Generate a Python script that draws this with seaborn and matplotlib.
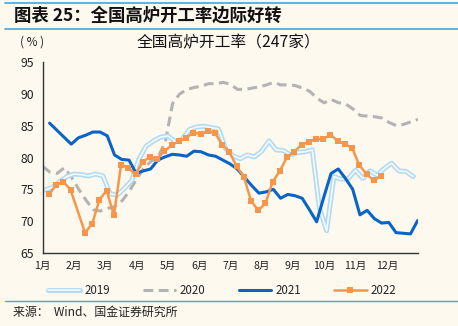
import numpy as np
import pandas as pd
import matplotlib
matplotlib.use("Agg")
import matplotlib.pyplot as plt
import matplotlib.patheffects as pe
from matplotlib.lines import Line2D
import seaborn as sns

# ---------------- data ----------------
month_labels = ["1月", "2月", "3月", "4月", "5月", "6月", "7月", "8月", "9月", "10月", "11月", "12月"]
years = ["2019", "2020", "2021", "2022"]

v2019 = [74.9, 75.3, 76.2, 77.0, 77.4, 77.3, 77.1, 77.4, 77.1, 74.3, 74.1, 75.2, 76.4,
         79.8, 81.8, 82.6, 83.2, 83.4, 82.5, 82.9, 84.4, 84.8, 84.9, 84.7, 84.5, 81.4,
         80.3, 79.8, 80.4, 80.1, 81.0, 82.6, 81.2, 81.1, 80.4, 80.8, 80.9, 81.2, 72.0,
         68.5, 77.0, 76.6, 76.7, 78.0, 76.7, 77.9, 77.2, 78.3, 79.1, 77.9, 77.8, 77.0]
v2020 = [78.6, 77.7, 77.5, 78.4, 76.9, 75.0, 73.3, 71.8, 71.6, 72.0, 72.3, 73.2, 74.7,
         76.6, 78.3, 79.4, 80.1, 82.5, 88.5, 90.0, 90.7, 91.0, 91.2, 91.6, 91.6, 91.8,
         91.5, 90.7, 90.7, 90.9, 91.1, 91.4, 91.8, 91.4, 91.4, 91.3, 90.9, 90.4, 89.3,
         88.6, 89.1, 88.6, 88.4, 87.6, 86.6, 86.5, 86.4, 86.2, 85.5, 85.0, 85.2, 85.6, 86.0]
v2021 = [85.4, 84.3, 83.2, 82.1, 83.1, 83.5, 84.0, 84.0, 83.4, 80.4, 79.7, 79.6, 77.5,
         77.9, 78.2, 79.6, 80.1, 80.5, 80.4, 80.2, 81.0, 80.9, 80.4, 80.2, 79.6, 79.0,
         78.2, 76.9, 75.6, 74.4, 74.6, 75.0, 73.6, 74.2, 74.0, 73.6, 71.8, 69.9, 73.8,
         77.5, 78.2, 76.7, 75.0, 71.0, 71.7, 70.4, 69.7, 69.8, 68.2, 68.1, 68.0, 70.1]
weeks2022 = [0, 1, 2, 3] + list(range(5, 47))
v2022 = [74.2, 75.7, 76.2, 74.9, 68.2, 69.6, 73.4, 74.8, 70.9, 78.9, 78.3, 77.4, 79.3,
         80.1, 79.8, 81.0, 81.9, 82.6, 83.1, 83.9, 83.7, 84.1, 83.9, 82.0, 80.9, 78.6,
         77.0, 73.2, 71.7, 72.8, 76.2, 77.9, 80.1, 80.9, 82.0, 82.5, 82.9, 82.9, 83.6,
         82.6, 82.1, 81.5, 78.8, 77.4, 76.4, 77.1]

# first observation of each year, in months from 1 Jan, and weekly step
start = {"2019": 0.08, "2020": 0.0, "2021": 0.22, "2022": 0.20}
wk = 12 / 52

def frame(year, weeks, vals):
    return pd.DataFrame({"month": [start[year] + w * wk for w in weeks],
                         "rate": vals, "year": year})

df = pd.concat([
    frame("2019", range(len(v2019)), v2019),
    frame("2020", range(len(v2020)), v2020),
    frame("2021", range(len(v2021)), v2021),
    frame("2022", weeks2022, v2022),
], ignore_index=True)

# ---------------- style ----------------
BG = "#fdf9ef"
C19 = "#b3daf3"
C20 = "#b3b3b3"
C21 = "#0a64c8"
C22 = "#f7964a"
LINEBLUE = "#3fa9de"

sns.set_theme(style="white")
plt.rcParams["font.family"] = ["Noto Sans CJK SC", "DejaVu Sans"]
plt.rcParams["axes.unicode_minus"] = False

fig = plt.figure(figsize=(4.58, 3.26), dpi=100, facecolor=BG)
ax = fig.add_axes([0.0932, 0.2239, 0.8195, 0.5859])
ax.set_facecolor(BG)

pe19 = [pe.Stroke(linewidth=3.6, foreground=C19), pe.Normal()]

sns.lineplot(data=df[df.year == "2020"], x="month", y="rate", ax=ax, color=C20,
             lw=2.2, dashes=False, linestyle=(0, (3.2, 1.8)), legend=False)
sns.lineplot(data=df[df.year == "2019"], x="month", y="rate", ax=ax, color="#f6fbff",
             lw=1.2, legend=False, path_effects=pe19)
sns.lineplot(data=df[df.year == "2021"], x="month", y="rate", ax=ax, color=C21,
             lw=2.2, legend=False)
sns.lineplot(data=df[df.year == "2022"], x="month", y="rate", ax=ax, color=C22,
             lw=1.8, marker="s", markersize=4.6, markeredgewidth=0, legend=False)

ax.set_xlim(0, 12)
ax.set_ylim(65, 95)
ax.set_xticks(np.arange(0, 13))
ax.set_xticklabels(month_labels + [""])
ax.set_yticks(np.arange(65, 96, 5))
ax.set_xlabel("")
ax.set_ylabel("")
for s in ["top", "right"]:
    ax.spines[s].set_visible(False)
for s in ["left", "bottom"]:
    ax.spines[s].set_color("#333333")
    ax.spines[s].set_linewidth(1.0)
ax.tick_params(axis="both", direction="out", length=4, width=1.0, color="#333333",
               colors="#222222")
ax.tick_params(axis="x", labelsize=7.6, pad=2)
ax.tick_params(axis="y", labelsize=8.8, pad=2)

# legend
h19 = Line2D([], [], color="#f6fbff", lw=1.2, path_effects=pe19)
h20 = Line2D([], [], color=C20, lw=2.2, linestyle=(0, (3.2, 1.8)))
h21 = Line2D([], [], color=C21, lw=2.2)
h22 = Line2D([], [], color=C22, lw=1.8, marker="s", markersize=4.6, markeredgewidth=0)
fig.legend([h19, h20, h21, h22], years, loc="center", bbox_to_anchor=(0.485, 0.11),
           ncol=4, frameon=False, fontsize=8.3, handlelength=2.8, handletextpad=0.35,
           columnspacing=2.9)

# texts
fig.text(0.03, 0.953, "图表 25：全国高炉开工率边际好转", fontsize=12.5, fontweight="bold",
         color="#111111", ha="left", va="center")
fig.text(0.498, 0.869, "全国高炉开工率（247家）", fontsize=11.3, color="#111111",
         ha="center", va="center")
fig.text(0.044, 0.871, "( % )", fontsize=8.5, color="#222222", ha="left", va="center")
fig.text(0.028, 0.043, "来源：  Wind、国金证券研究所", fontsize=8.6, color="#222222",
         ha="left", va="center")

# decorative rules
for y in (0.991, 0.911):
    fig.add_artist(Line2D([0.01, 1.0], [y, y], transform=fig.transFigure,
                          color=LINEBLUE, lw=1.2))
fig.add_artist(Line2D([0.01, 1.0], [0.077, 0.077], transform=fig.transFigure,
                      color=LINEBLUE, lw=1.0))

fig.savefig("out.png", dpi=100, facecolor=BG)
